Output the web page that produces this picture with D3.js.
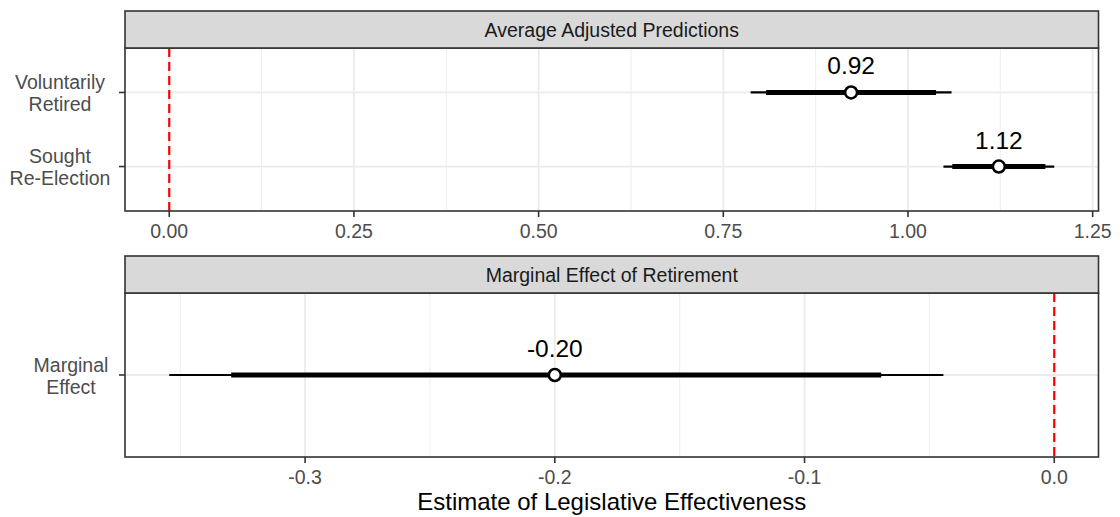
<!DOCTYPE html>
<html>
<head>
<meta charset="utf-8">
<script src="https://cdn.jsdelivr.net/npm/d3@7"></script>
<style>
  html, body { margin: 0; padding: 0; background: #ffffff; }
  svg { display: block; font-family: "Liberation Sans", Arial, Helvetica, sans-serif; }
  .grid-major { stroke: #ebebeb; stroke-width: 1.8; }
  .grid-minor { stroke: #ebebeb; stroke-width: 0.9; }
  .tick-mark { stroke: #333333; stroke-width: 1.6; }
  .tick-label { fill: #4d4d4d; font-size: 19.5px; }
  .strip rect { fill: #d9d9d9; stroke: #333333; stroke-width: 1.6; }
  .strip text { fill: #1a1a1a; font-size: 19.5px; }
  .border { fill: none; stroke: #333333; stroke-width: 1.6; }
  .zero { stroke: #ff0000; stroke-width: 2.2; stroke-dasharray: 9 5; }
  .value-label { fill: #000000; font-size: 24.5px; }
</style>
</head>
<body>
<div id="chart"></div>
<script>
// top facet: average adjusted predictions
var topTitle = "Average Adjusted Predictions";
var topCategories = ["Voluntarily\nRetired", "Sought\nRe-Election"];
var topEstimate = [0.923, 1.123];
var topLow95 = [0.787, 1.048];
var topHigh95 = [1.059, 1.198];
var topLow90 = [0.808, 1.060];
var topHigh90 = [1.038, 1.186];
var topTicks = [0, 0.25, 0.5, 0.75, 1.0, 1.25];

// bottom facet: marginal effect
var bottomTitle = "Marginal Effect of Retirement";
var bottomCategories = ["Marginal\nEffect"];
var bottomEstimate = [-0.200];
var bottomLow95 = [-0.3544];
var bottomHigh95 = [-0.0444];
var bottomLow90 = [-0.3296];
var bottomHigh90 = [-0.0693];
var bottomTicks = [-0.3, -0.2, -0.1, 0.0];

var xTitle = "Estimate of Legislative Effectiveness";

var width = 1120, height = 517;
var left = 125, right = 1098.5;

var svg = d3.select("#chart").append("svg")
    .attr("width", width)
    .attr("height", height);

svg.append("rect")
    .attr("width", width)
    .attr("height", height)
    .attr("fill", "#ffffff");

function rows(categories, est, lo95, hi95, lo90, hi90) {
    return categories.map(function (c, i) {
        return {cat: c, est: est[i], lo95: lo95[i], hi95: hi95[i], lo90: lo90[i], hi90: hi90[i]};
    });
}

function drawPanel(opts) {
    var data = opts.data;
    var stripTop = opts.stripTop, panelTop = opts.panelTop, panelBottom = opts.panelBottom;

    // ggplot style: data range incl. the zero line, expanded by 5%
    var lo = d3.min(data, function (d) { return d.lo95; });
    var hi = d3.max(data, function (d) { return d.hi95; });
    lo = Math.min(lo, 0);
    hi = Math.max(hi, 0);
    var pad = (hi - lo) * 0.05;
    var x = d3.scaleLinear().domain([lo - pad, hi + pad]).range([left, right]);

    var y = d3.scalePoint()
        .domain(data.map(function (d) { return d.cat; }))
        .range([panelTop, panelBottom])
        .padding(0.6);

    var g = svg.append("g").attr("class", "panel");

    // minor grid halfway between major ticks
    var step = opts.ticks[1] - opts.ticks[0];
    var minors = [];
    for (var i = -1; i < opts.ticks.length; i++) {
        var m = opts.ticks[0] + step * (i + 0.5);
        if (m > x.domain()[0] && m < x.domain()[1]) minors.push(m);
    }
    g.selectAll("line.grid-minor")
        .data(minors)
        .enter().append("line")
        .attr("class", "grid-minor")
        .attr("x1", x).attr("x2", x)
        .attr("y1", panelTop).attr("y2", panelBottom);

    g.selectAll("line.grid-major-x")
        .data(opts.ticks)
        .enter().append("line")
        .attr("class", "grid-major")
        .attr("x1", x).attr("x2", x)
        .attr("y1", panelTop).attr("y2", panelBottom);

    g.selectAll("line.grid-major-y")
        .data(data)
        .enter().append("line")
        .attr("class", "grid-major")
        .attr("x1", left).attr("x2", right)
        .attr("y1", function (d) { return y(d.cat); })
        .attr("y2", function (d) { return y(d.cat); });

    // reference line at zero
    g.append("line")
        .attr("class", "zero")
        .attr("x1", x(0)).attr("x2", x(0))
        .attr("y1", panelTop).attr("y2", panelBottom);

    // intervals
    g.selectAll("line.ci95")
        .data(data)
        .enter().append("line")
        .attr("x1", function (d) { return x(d.lo95); })
        .attr("x2", function (d) { return x(d.hi95); })
        .attr("y1", function (d) { return y(d.cat); })
        .attr("y2", function (d) { return y(d.cat); })
        .attr("stroke", "#000")
        .attr("stroke-width", 2.2);

    g.selectAll("line.ci90")
        .data(data)
        .enter().append("line")
        .attr("x1", function (d) { return x(d.lo90); })
        .attr("x2", function (d) { return x(d.hi90); })
        .attr("y1", function (d) { return y(d.cat); })
        .attr("y2", function (d) { return y(d.cat); })
        .attr("stroke", "#000")
        .attr("stroke-width", 5);

    g.selectAll("circle.est")
        .data(data)
        .enter().append("circle")
        .attr("cx", function (d) { return x(d.est); })
        .attr("cy", function (d) { return y(d.cat); })
        .attr("r", 6)
        .attr("fill", "#fff")
        .attr("stroke", "#000")
        .attr("stroke-width", 2.6);

    g.selectAll("text.value-label")
        .data(data)
        .enter().append("text")
        .attr("class", "value-label")
        .attr("x", function (d) { return x(d.est); })
        .attr("y", function (d) { return y(d.cat) - 18; })
        .attr("text-anchor", "middle")
        .text(function (d) { return d.est.toFixed(2); });

    // panel border
    g.append("rect")
        .attr("class", "border")
        .attr("x", left).attr("y", panelTop)
        .attr("width", right - left)
        .attr("height", panelBottom - panelTop);

    // strip
    var strip = g.append("g").attr("class", "strip");
    strip.append("rect")
        .attr("x", left).attr("y", stripTop)
        .attr("width", right - left)
        .attr("height", panelTop - stripTop);
    strip.append("text")
        .attr("x", (left + right) / 2)
        .attr("y", (stripTop + panelTop) / 2 + 7)
        .attr("text-anchor", "middle")
        .text(opts.title);

    // x axis
    g.selectAll("line.xtick")
        .data(opts.ticks)
        .enter().append("line")
        .attr("class", "tick-mark")
        .attr("x1", x).attr("x2", x)
        .attr("y1", panelBottom).attr("y2", panelBottom + 6);
    g.selectAll("text.xlab")
        .data(opts.ticks)
        .enter().append("text")
        .attr("class", "tick-label")
        .attr("x", x)
        .attr("y", panelBottom + 27)
        .attr("text-anchor", "middle")
        .text(opts.format);

    // y axis
    g.selectAll("line.ytick")
        .data(data)
        .enter().append("line")
        .attr("class", "tick-mark")
        .attr("x1", left - 6).attr("x2", left)
        .attr("y1", function (d) { return y(d.cat); })
        .attr("y2", function (d) { return y(d.cat); });
    var ylab = g.selectAll("text.ylab")
        .data(data)
        .enter().append("text")
        .attr("class", "tick-label")
        .attr("text-anchor", "middle")
        .attr("transform", function (d) { return "translate(" + opts.labelX + " " + y(d.cat) + ")"; });
    ylab.selectAll("tspan")
        .data(function (d) { return d.cat.split("\n"); })
        .enter().append("tspan")
        .attr("x", 0)
        .attr("y", function (t, i) { return -3.5 + i * 22; })
        .text(function (t) { return t; });
}

drawPanel({
    title: topTitle,
    data: rows(topCategories, topEstimate, topLow95, topHigh95, topLow90, topHigh90),
    ticks: topTicks,
    format: function (d) { return d.toFixed(2); },
    stripTop: 11, panelTop: 48, panelBottom: 211,
    labelX: 60
});

drawPanel({
    title: bottomTitle,
    data: rows(bottomCategories, bottomEstimate, bottomLow95, bottomHigh95, bottomLow90, bottomHigh90),
    ticks: bottomTicks,
    format: function (d) { return d.toFixed(1); },
    stripTop: 256, panelTop: 293, panelBottom: 457,
    labelX: 71
});

svg.append("text")
    .attr("x", (left + right) / 2)
    .attr("y", 510)
    .attr("text-anchor", "middle")
    .attr("font-size", "24px")
    .attr("fill", "#000")
    .text(xTitle);
</script>
</body>
</html>
